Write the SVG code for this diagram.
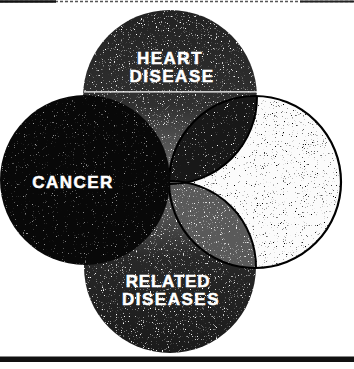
<svg xmlns="http://www.w3.org/2000/svg" width="354" height="369" viewBox="0 0 354 369">
<style>
.lbl{font-family:"Liberation Sans",Arial,Helvetica,sans-serif;font-weight:bold;font-size:17px;fill:#fff;stroke:#fff;stroke-width:0.5px;text-anchor:middle;letter-spacing:1.5px}
</style>
<defs>
<filter id="spkW" x="-5%" y="-5%" width="110%" height="110%">
<feTurbulence type="fractalNoise" baseFrequency="0.85" numOctaves="2" seed="4" result="n"/>
<feColorMatrix in="n" type="matrix" values="0 0 0 0 1  0 0 0 0 1  0 0 0 0 1  7 0 0 0 -4.5" result="s"/>
<feComposite in="s" in2="SourceAlpha" operator="in"/>
</filter>
<filter id="spkWl" x="-5%" y="-5%" width="110%" height="110%">
<feTurbulence type="fractalNoise" baseFrequency="0.9" numOctaves="2" seed="9" result="n"/>
<feColorMatrix in="n" type="matrix" values="0 0 0 0 1  0 0 0 0 1  0 0 0 0 1  8 0 0 0 -5.5" result="s"/>
<feComposite in="s" in2="SourceAlpha" operator="in"/>
</filter>
<filter id="spkB" x="-5%" y="-5%" width="110%" height="110%">
<feTurbulence type="fractalNoise" baseFrequency="0.9" numOctaves="2" seed="2" result="n"/>
<feColorMatrix in="n" type="matrix" values="0 0 0 0 0  0 0 0 0 0  0 0 0 0 0  7 0 0 0 -4.7" result="s"/>
<feComposite in="s" in2="SourceAlpha" operator="in"/>
</filter>
<linearGradient id="gTop" x1="0" y1="0" x2="0" y2="1">
<stop offset="0" stop-color="#222"/>
<stop offset="0.55" stop-color="#303030"/>
<stop offset="1" stop-color="#7a7a7a"/>
</linearGradient>
<linearGradient id="gBot" x1="0" y1="0" x2="0" y2="1">
<stop offset="0" stop-color="#737373"/>
<stop offset="0.45" stop-color="#282828"/>
<stop offset="1" stop-color="#1a1a1a"/>
</linearGradient>
</defs>
<rect width="354" height="369" fill="#fff"/>
<g id="frame">
<line x1="0" y1="1.5" x2="354" y2="1.5" stroke="#555" stroke-width="1.5" stroke-dasharray="3 2"/>
<line x1="0" y1="1.5" x2="56" y2="1.5" stroke="#111" stroke-width="2.5"/>
<line x1="300" y1="1.5" x2="354" y2="1.5" stroke="#222" stroke-width="2"/>
<rect x="0" y="356.5" width="354" height="5.5" fill="#111"/>
</g>
<g id="node-right">
<circle cx="255" cy="182" r="86" fill="#fbfbfb"/>
<circle cx="255" cy="182" r="86" fill="#000" filter="url(#spkB)"/>
</g>
<g id="node-heart">
<circle cx="170" cy="97" r="87" fill="url(#gTop)"/>
<circle cx="170" cy="97" r="87" fill="#000" filter="url(#spkW)"/>
<text class="lbl" x="170" y="64">HEART</text>
<text class="lbl" x="172" y="82">DISEASE</text>
</g>
<g id="node-related">
<circle cx="170" cy="267" r="86" fill="url(#gBot)"/>
<circle cx="170" cy="267" r="86" fill="#000" filter="url(#spkW)"/>
</g>
<g id="overlaps">
<path d="M169,184 A87,87 0 0 0 257,96 A86,86 0 0 0 169,184 Z" fill="#181818"/>
<path d="M169,184 A87,87 0 0 0 257,96 A86,86 0 0 0 169,184 Z" fill="#000" filter="url(#spkWl)"/>
<path d="M169,181 A86,86 0 0 1 256,268 A86,86 0 0 1 169,181 Z" fill="#5a5a5a"/>
<path d="M169,181 A86,86 0 0 1 256,268 A86,86 0 0 1 169,181 Z" fill="#000" filter="url(#spkW)"/>
<path d="M169,184 A87,87 0 0 0 257,96" fill="none" stroke="#000" stroke-width="2"/>
<path d="M169,181 A86,86 0 0 1 256,268" fill="none" stroke="#000" stroke-width="2"/>
<circle cx="255" cy="182" r="86" fill="none" stroke="#000" stroke-width="2.2"/>
</g>
<g id="node-cancer">
<circle cx="85" cy="180" r="85" fill="#080808"/>
<circle cx="85" cy="180" r="85" fill="#000" filter="url(#spkWl)" opacity="0.6"/>
<text class="lbl" x="73" y="188">CANCER</text>
</g>
<line x1="84" y1="91.8" x2="257" y2="91.8" stroke="#fff" stroke-width="1.2"/>
<g id="node-related-label">
<text class="lbl" x="168" y="287" style="letter-spacing:0.8px">RELATED</text>
<text class="lbl" x="171" y="305">DISEASES</text>
</g>
</svg>
